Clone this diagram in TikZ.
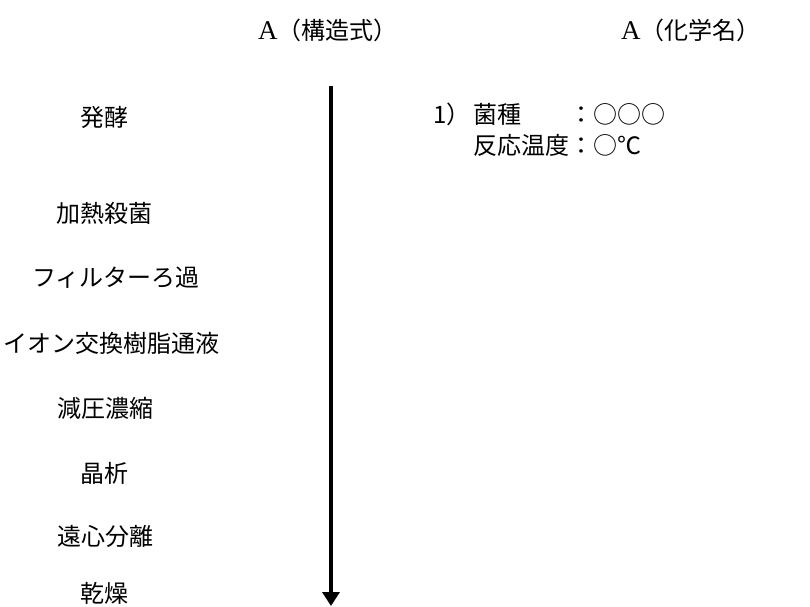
\documentclass[tikz,border=0pt]{standalone}
\usepackage{fontspec}
\setmainfont{Liberation Serif}
\newfontfamily\jp{Noto Sans CJK JP}
\usetikzlibrary{arrows.meta}
\begin{document}
\begin{tikzpicture}[x=1pt,y=-1pt,
  title/.style={anchor=west,inner sep=0pt,font=\fontsize{24}{26}\selectfont},
  stepbox/.style={anchor=center,inner sep=0pt,font=\jp\fontsize{24}{26}\selectfont},
  note/.style={anchor=west,inner sep=0pt,font=\jp\fontsize{24}{26}\selectfont},
  flow/.style={line width=3.4pt,-{Triangle[length=14pt,width=17pt]}}]
\useasboundingbox (0,0) rectangle (810,606);
\node[title] (t1) at (258,30) {{\fontsize{27}{28}\selectfont A}{\jp （構造式）}};
\node[title] (t2) at (621,30) {{\fontsize{27}{28}\selectfont A}{\jp （化学名）}};
\coordinate (s) at (331,86);
\coordinate (e) at (331,606);
\draw[flow] (s) -- (e);
\node[stepbox] (p1) at (104,117) {発酵};
\node[stepbox] (p2) at (104,213) {加熱殺菌};
\node[stepbox] (p3) at (116,278) {フィルターろ過};
\node[stepbox] (p4) at (111,343) {イオン交換樹脂通液};
\node[stepbox] (p5) at (105,408) {減圧濃縮};
\node[stepbox] (p6) at (104,473) {晶析};
\node[stepbox] (p7) at (105,536) {遠心分離};
\node[stepbox] (p8) at (104,593) {乾燥};
\node[note] (n1) at (433,114) {\makebox[40pt][l]{1）}\makebox[96pt][l]{菌種}：○○○};
\node[note] (n2) at (473,145) {反応温度：○℃};
\end{tikzpicture}
\end{document}
